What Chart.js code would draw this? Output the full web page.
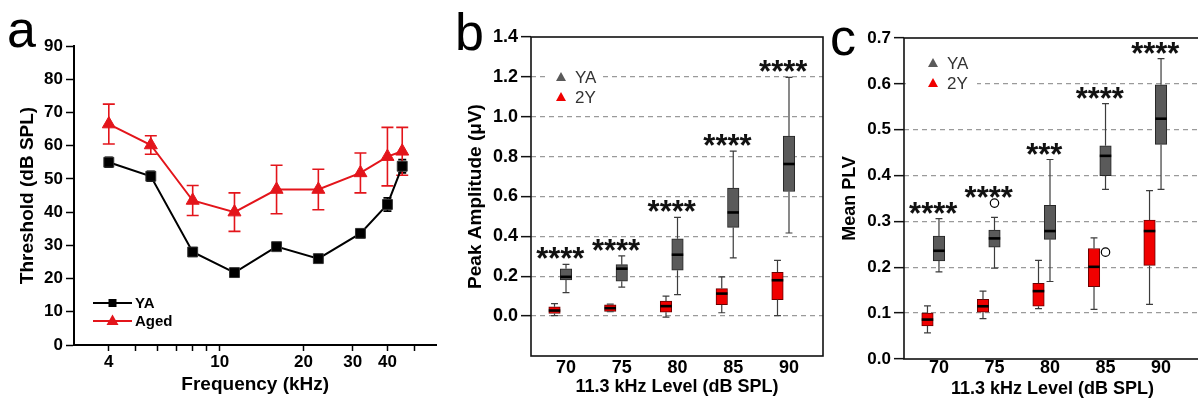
<!DOCTYPE html>
<html>
<head>
<meta charset="utf-8">
<title>ABR thresholds and 11.3 kHz responses</title>
<script src="https://cdn.jsdelivr.net/npm/chart.js@4.4.1/dist/chart.umd.min.js"></script>
<style>
    html, body { margin: 0; padding: 0; background: #fff; overflow: hidden; }
    #wrap { position: relative; width: 1198px; height: 401px; }
    .panel { position: absolute; top: 0; }
</style>
</head>
<body>
<div id="wrap">
    <div class="panel" style="left:0px"><canvas id="chartA" width="445" height="401"></canvas></div>
    <div class="panel" style="left:445px"><canvas id="chartB" width="385" height="401"></canvas></div>
    <div class="panel" style="left:830px"><canvas id="chartC" width="372" height="401"></canvas></div>
</div>
<script>
// --- a: пороги по частотам (mean +- SEM) ---
const freqKHz = [4, 5.66, 8, 11.3, 16, 22.6, 32, 40, 45.2];
const yaThreshold = [55, 50.8, 28, 21.8, 29.6, 26, 33.6, 42.3, 53.8];
const yaSem = [1.5, 1.5, 0.8, 0.8, 0.8, 0.8, 1.2, 2, 2];
const agedThreshold = [66.5, 60.2, 43.5, 40, 46.8, 46.8, 51.8, 56.7, 58.3];
const agedSem = [6, 2.8, 4.5, 5.8, 7.3, 6.1, 6, 8.8, 7.2];
const freqTicks = [4, 5, 6, 7, 8, 9, 10, 20, 30, 40, 50];
const freqTickLabels = [4, 10, 20, 30, 40];

// --- b, c: боксплоты, каждая строка [min, q1, median, q3, max] ---
const levels = [70, 75, 80, 85, 90];

const ampYA = [
    [0.118, 0.182, 0.197, 0.237, 0.26],
    [0.145, 0.175, 0.238, 0.258, 0.302],
    [0.108, 0.23, 0.308, 0.388, 0.495],
    [0.292, 0.445, 0.52, 0.642, 0.828],
    [0.417, 0.625, 0.763, 0.903, 1.197]
];
const amp2Y = [
    [0.003, 0.013, 0.028, 0.047, 0.063],
    [0.022, 0.024, 0.04, 0.057, 0.06],
    [-0.005, 0.02, 0.05, 0.075, 0.1],
    [0.017, 0.057, 0.113, 0.138, 0.197],
    [0.003, 0.083, 0.18, 0.22, 0.28]
];
const ampStars = ['****', '****', '****', '****', '****'];
const ampTicks = [-0.2, 0, 0.2, 0.4, 0.6, 0.8, 1.0, 1.2, 1.4];

const plvYA = [
    [0.19, 0.214, 0.236, 0.268, 0.306],
    [0.198, 0.244, 0.263, 0.281, 0.309],
    [0.169, 0.261, 0.279, 0.335, 0.435],
    [0.37, 0.40, 0.443, 0.465, 0.557],
    [0.37, 0.468, 0.524, 0.598, 0.655]
];
const plv2Y = [
    [0.057, 0.072, 0.086, 0.1, 0.116],
    [0.088, 0.102, 0.115, 0.13, 0.148],
    [0.11, 0.115, 0.148, 0.165, 0.215],
    [0.108, 0.158, 0.201, 0.241, 0.264],
    [0.119, 0.204, 0.279, 0.303, 0.367]
];
const plvYAOutliers = [null, 0.34, null, null, null];
const plv2YOutliers = [null, null, null, 0.233, null];
const plvStars = ['****', '****', '***', '****', '****'];
const plvTicks = [0, 0.1, 0.2, 0.3, 0.4, 0.5, 0.6, 0.7];

const FONT = "'Liberation Sans', Arial, Helvetica, sans-serif";
const RED_LINE = '#e3151b';
const RED_BOX = '#f00000';
const GREY_BOX = '#5a5a5a';

Chart.defaults.font.family = FONT;
Chart.defaults.color = '#000';

/**
 * Буква панели (a, b, c)
 */
const letterPlugin = {
    id: 'panelLetter',
    afterDraw(chart, args, opts) {
        const ctx = chart.ctx;
        ctx.save();
        ctx.font = '52px ' + FONT;
        ctx.fillStyle = '#000';
        ctx.textBaseline = 'alphabetic';
        ctx.fillText(opts.text, opts.x, opts.y);
        ctx.restore();
    }
};

/**
 * Планки погрешностей для линейного графика
 */
const errorBarPlugin = {
    id: 'errorBars',
    beforeDatasetsDraw(chart) {
        const ctx = chart.ctx;
        const y = chart.scales.y;
        chart.data.datasets.forEach((ds, di) => {
            if (!ds.err) return;
            chart.getDatasetMeta(di).data.forEach((pt, i) => {
                const v = ds.data[i].y;
                const top = y.getPixelForValue(v + ds.err[i]);
                const bot = y.getPixelForValue(v - ds.err[i]);
                ctx.save();
                ctx.strokeStyle = ds.borderColor;
                ctx.lineWidth = 1.6;
                ctx.beginPath();
                ctx.moveTo(pt.x, top); ctx.lineTo(pt.x, bot);
                ctx.moveTo(pt.x - ds.capHalf, top); ctx.lineTo(pt.x + ds.capHalf, top);
                ctx.moveTo(pt.x - ds.capHalf, bot); ctx.lineTo(pt.x + ds.capHalf, bot);
                ctx.stroke();
                ctx.restore();
            });
        });
    }
};

/**
 * Легенда панели a (линия + маркер)
 */
const lineLegendPlugin = {
    id: 'lineLegend',
    afterDraw(chart, args, opts) {
        const ctx = chart.ctx;
        ctx.save();
        chart.data.datasets.forEach((ds, i) => {
            const yy = opts.y + i * opts.step;
            ctx.strokeStyle = ds.borderColor;
            ctx.fillStyle = ds.borderColor;
            ctx.lineWidth = 2;
            ctx.beginPath();
            ctx.moveTo(opts.x, yy); ctx.lineTo(opts.x + opts.len, yy);
            ctx.stroke();
            const mx = opts.x + opts.len / 2;
            ctx.beginPath();
            if (ds.pointStyle === 'rect') {
                ctx.rect(mx - 4, yy - 4, 8, 8);
            } else {
                ctx.moveTo(mx, yy - 6.5);
                ctx.lineTo(mx + 6, yy + 4);
                ctx.lineTo(mx - 6, yy + 4);
                ctx.closePath();
            }
            ctx.fill();
            ctx.fillStyle = '#000';
            ctx.font = 'bold 15px ' + FONT;
            ctx.textBaseline = 'middle';
            ctx.fillText(ds.label, opts.x + opts.len + 3, yy + 1);
        });
        ctx.restore();
    }
};

/**
 * Усы, медианы и выбросы поверх плавающих столбцов
 */
const boxWhiskerPlugin = {
    id: 'boxWhisker',
    afterDatasetsDraw(chart, args, opts) {
        const ctx = chart.ctx;
        const y = chart.scales.y;
        chart.data.datasets.forEach((ds, di) => {
            if (!ds.summary) return;
            chart.getDatasetMeta(di).data.forEach((bar, i) => {
                const [lo, q1, med, q3, hi] = ds.summary[i];
                const cap = bar.width * 0.3;
                const half = bar.width / 2;
                ctx.save();
                ctx.strokeStyle = '#3c3c3c';
                ctx.lineWidth = 1.2;
                ctx.beginPath();
                ctx.moveTo(bar.x, y.getPixelForValue(q3)); ctx.lineTo(bar.x, y.getPixelForValue(hi));
                ctx.moveTo(bar.x, y.getPixelForValue(q1)); ctx.lineTo(bar.x, y.getPixelForValue(lo));
                ctx.moveTo(bar.x - cap, y.getPixelForValue(hi)); ctx.lineTo(bar.x + cap, y.getPixelForValue(hi));
                ctx.moveTo(bar.x - cap, y.getPixelForValue(lo)); ctx.lineTo(bar.x + cap, y.getPixelForValue(lo));
                ctx.stroke();
                ctx.strokeStyle = '#000';
                ctx.lineWidth = 2.6;
                ctx.beginPath();
                ctx.moveTo(bar.x - half, y.getPixelForValue(med));
                ctx.lineTo(bar.x + half, y.getPixelForValue(med));
                ctx.stroke();
                // выбросы рисуются в колонке YA, как в оригинале
                if (ds.outliers && ds.outliers[i] !== null) {
                    const ox = chart.getDatasetMeta(opts.outlierColumn).data[i].x;
                    ctx.lineWidth = 1.2;
                    ctx.beginPath();
                    ctx.arc(ox, y.getPixelForValue(ds.outliers[i]), 4.2, 0, Math.PI * 2);
                    ctx.fillStyle = '#fff';
                    ctx.fill();
                    ctx.stroke();
                }
                ctx.restore();
            });
        });
    }
};

/**
 * Звёздочки значимости над каждой парой боксов
 */
const starsPlugin = {
    id: 'stars',
    afterDatasetsDraw(chart, args, opts) {
        const ctx = chart.ctx;
        const y = chart.scales.y;
        const groups = chart.data.datasets
            .map((ds, di) => ({ ds, meta: chart.getDatasetMeta(di) }))
            .filter(g => g.ds.summary);
        ctx.save();
        ctx.font = 'bold 31px ' + FONT;
        ctx.fillStyle = '#111';
        ctx.textAlign = 'center';
        opts.labels.forEach((text, i) => {
            let top = Infinity;
            let xs = 0;
            groups.forEach(g => {
                top = Math.min(top, y.getPixelForValue(g.ds.summary[i][4]));
                if (g.ds.outliers && g.ds.outliers[i] !== null) {
                    top = Math.min(top, y.getPixelForValue(g.ds.outliers[i]));
                }
                xs += g.meta.data[i].x;
            });
            const m = ctx.measureText(text);
            const center = top - opts.gap;
            const base = center + (m.actualBoundingBoxAscent - m.actualBoundingBoxDescent) / 2;
            ctx.fillText(text, xs / groups.length, base);
        });
        ctx.restore();
    }
};

/**
 * Рамка вокруг области графика
 */
const framePlugin = {
    id: 'frame',
    afterDatasetsDraw(chart) {
        const { ctx, chartArea: a } = chart;
        ctx.save();
        ctx.strokeStyle = '#111';
        ctx.lineWidth = 1.6;
        ctx.strokeRect(a.left, a.top, a.right - a.left, a.bottom - a.top);
        ctx.restore();
    }
};

/**
 * Легенда с треугольниками внутри области графика (b, c)
 */
const boxLegendPlugin = {
    id: 'boxLegend',
    beforeDatasetsDraw(chart, args, opts) {
        const ctx = chart.ctx;
        const items = chart.data.datasets.filter(ds => ds.summary).reverse();
        ctx.save();
        ctx.fillStyle = '#fff';
        ctx.fillRect(opts.boxLeft, opts.y - 10, opts.boxRight - opts.boxLeft, opts.step + 20);
        ctx.font = '17px ' + FONT;
        ctx.textBaseline = 'middle';
        items.forEach((ds, i) => {
            const yy = opts.y + i * opts.step;
            ctx.fillStyle = ds.backgroundColor;
            ctx.beginPath();
            ctx.moveTo(opts.x, yy - 5);
            ctx.lineTo(opts.x + 5, yy + 4);
            ctx.lineTo(opts.x - 5, yy + 4);
            ctx.closePath();
            ctx.fill();
            ctx.fillStyle = '#333';
            ctx.fillText(ds.label, opts.x + 14, yy + 1);
        });
        ctx.restore();
    }
};

// Панель a: пороги ABR
new Chart(document.getElementById('chartA'), {
    type: 'line',
    data: {
        datasets: [
            {
                label: 'YA',
                data: freqKHz.map((f, i) => ({ x: f, y: yaThreshold[i] })),
                err: yaSem,
                capHalf: 4,
                borderColor: '#000',
                backgroundColor: '#000',
                borderWidth: 2,
                pointStyle: 'rect',
                pointRadius: 7,
                pointBorderWidth: 1,
                pointBorderColor: '#333'
            },
            {
                label: 'Aged',
                data: freqKHz.map((f, i) => ({ x: f, y: agedThreshold[i] })),
                err: agedSem,
                capHalf: 6,
                borderColor: RED_LINE,
                backgroundColor: RED_LINE,
                borderWidth: 2,
                pointStyle: 'triangle',
                pointRadius: 7.5,
                pointBorderWidth: 1,
                pointBorderColor: RED_LINE
            }
        ]
    },
    options: {
        responsive: false,
        animation: false,
        layout: { padding: { top: 46, right: 3, left: 0, bottom: 0 } },
        plugins: {
            legend: { display: false },
            tooltip: { enabled: false },
            panelLetter: { text: 'a', x: 7, y: 47 },
            lineLegend: { x: 93, y: 303, step: 18, len: 39 }
        },
        scales: {
            x: {
                type: 'logarithmic',
                min: 3,
                max: 60,
                afterBuildTicks: s => { s.ticks = freqTicks.map(v => ({ value: v })); },
                afterFit: s => { s.height = 56; },
                grid: { drawOnChartArea: false, tickLength: 6, tickColor: '#000', tickWidth: 1.5 },
                border: { color: '#000', width: 2 },
                ticks: {
                    autoSkip: false,
                    maxRotation: 0,
                    padding: 3,
                    font: { size: 17, weight: 'bold', lineHeight: 1 },
                    callback: v => freqTickLabels.includes(v) ? String(v) : ''
                },
                title: {
                    display: true,
                    text: 'Frequency (kHz)',
                    font: { size: 19, weight: 'bold' },
                    padding: { top: 0, bottom: 4.6 }
                }
            },
            y: {
                min: 0,
                max: 90,
                afterFit: s => { s.width = 74; },
                grid: { drawOnChartArea: false, tickLength: 8, tickColor: '#000', tickWidth: 1.5 },
                border: { color: '#000', width: 2 },
                ticks: { stepSize: 10, padding: 3, font: { size: 17, weight: 'bold' } },
                title: {
                    display: true,
                    text: 'Threshold (dB SPL)',
                    font: { size: 19, weight: 'bold' },
                    padding: { top: 16.6, bottom: 0 }
                }
            }
        }
    },
    plugins: [errorBarPlugin, lineLegendPlugin, letterPlugin]
});

/**
 * Панель с боксплотами: 2Y слева, YA на отметке, пустая колонка справа
 */
function boxPanel(canvasId, p) {
    const edgeLo = p.ticks[0];
    const edgeHi = p.ticks[p.ticks.length - 1];
    const isEdge = v => Math.abs(v - edgeLo) < 1e-6 || Math.abs(v - edgeHi) < 1e-6;
    const floating = rows => levels.map((lv, i) => ({ x: lv, y: [rows[i][1], rows[i][3]] }));

    return new Chart(document.getElementById(canvasId), {
        type: 'bar',
        data: {
            datasets: [
                {
                    label: '2Y',
                    summary: p.old,
                    outliers: p.oldOut,
                    data: floating(p.old),
                    backgroundColor: RED_BOX,
                    borderColor: '#6a0000',
                    borderWidth: 1,
                    borderSkipped: false,
                    barThickness: 11.5
                },
                {
                    label: 'YA',
                    summary: p.young,
                    outliers: p.youngOut,
                    data: floating(p.young),
                    backgroundColor: GREY_BOX,
                    borderColor: '#262626',
                    borderWidth: 1,
                    borderSkipped: false,
                    barThickness: 11.5
                },
                { label: '', data: [], barThickness: 11.5 }
            ]
        },
        options: {
            responsive: false,
            animation: false,
            layout: { padding: { top: p.top, right: p.right, left: 0, bottom: 0 } },
            plugins: {
                legend: { display: false },
                tooltip: { enabled: false },
                panelLetter: p.letter,
                boxLegend: p.legend,
                boxWhisker: { outlierColumn: 1 },
                stars: { labels: p.stars, gap: 11 }
            },
            scales: {
                x: {
                    type: 'linear',
                    offset: false,
                    min: p.xMin,
                    max: p.xMax,
                    afterBuildTicks: s => { s.ticks = levels.map(v => ({ value: v })); },
                    afterFit: s => { s.height = p.xHeight; },
                    grid: { display: false, drawTicks: false },
                    border: { display: false },
                    ticks: {
                        autoSkip: false,
                        maxRotation: 0,
                        padding: p.xPad,
                        font: { size: 18, weight: 'bold', lineHeight: 1 }
                    },
                    title: {
                        display: true,
                        text: '11.3 kHz Level (dB SPL)',
                        font: { size: 18, weight: 'bold' },
                        padding: { top: 0, bottom: p.xTitlePad }
                    }
                },
                y: {
                    min: edgeLo,
                    max: edgeHi,
                    afterBuildTicks: s => { s.ticks = p.ticks.map(v => ({ value: v })); },
                    afterFit: s => { s.width = p.yWidth; },
                    grid: {
                        color: c => isEdge(c.tick.value) ? 'rgba(0,0,0,0)' : '#9a9a9a',
                        lineWidth: 1.3,
                        tickColor: c => c.tick.value < -1e-6 ? 'rgba(0,0,0,0)' : '#111',
                        tickWidth: 1.5,
                        tickLength: 10,
                        tickBorderDash: [0, 0]
                    },
                    border: { display: false, dash: [5, 4] },
                    ticks: {
                        padding: 3,
                        font: { size: p.tickSize, weight: 'bold' },
                        callback: v => v < -1e-6 ? '' : v.toFixed(1)
                    },
                    title: {
                        display: true,
                        text: p.yTitle,
                        font: { size: p.yTitleSize, weight: 'bold' },
                        padding: { top: p.yTitlePad, bottom: 0 }
                    }
                }
            }
        },
        plugins: [boxLegendPlugin, boxWhiskerPlugin, starsPlugin, framePlugin, letterPlugin]
    });
}

// Панель b: амплитуда
boxPanel('chartB', {
    young: ampYA, old: amp2Y, youngOut: null, oldOut: null,
    stars: ampStars, ticks: ampTicks,
    yTitle: 'Peak Amplitude (\u03BCV)', yTitleSize: 19, yTitlePad: 19,
    tickSize: 18,
    top: 37, right: 7, yWidth: 86, xHeight: 45,
    xMin: 66.86, xMax: 93.05, xPad: 3, xTitlePad: 2.7,
    letter: { text: 'b', x: 10, y: 50 },
    legend: { x: 116, y: 77, step: 20, boxLeft: 100, boxRight: 158 }
});

// Панель c: PLV
boxPanel('chartC', {
    young: plvYA, old: plv2Y, youngOut: plvYAOutliers, oldOut: plv2YOutliers,
    stars: plvStars, ticks: plvTicks,
    yTitle: 'Mean PLV', yTitleSize: 18, yTitlePad: 9.2,
    tickSize: 17,
    top: 38, right: 1, yWidth: 74, xHeight: 42,
    xMin: 66.85, xMax: 93.6, xPad: 0, xTitlePad: 1.2,
    letter: { text: 'c', x: 0, y: 55 },
    legend: { x: 103, y: 63, step: 20, boxLeft: 76, boxRight: 147 }
});
</script>
</body>
</html>
